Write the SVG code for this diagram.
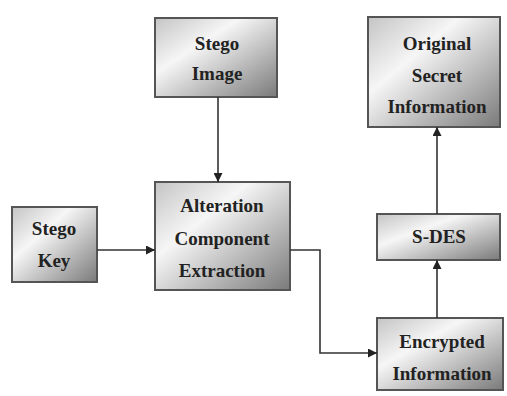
<svg xmlns="http://www.w3.org/2000/svg" width="507" height="396" viewBox="0 0 507 396">
<defs>
<linearGradient id="g" x1="0" y1="0" x2="1" y2="1">
<stop offset="0" stop-color="#c4c4c4"/>
<stop offset="0.35" stop-color="#f6f6f6"/>
<stop offset="1" stop-color="#7a7a7a"/>
</linearGradient>
<marker id="a" viewBox="0 0 10 10" refX="10" refY="5" markerWidth="9" markerHeight="9" markerUnits="userSpaceOnUse" orient="auto">
<path d="M0,0 L10,5 L0,10 Z" fill="#222"/>
</marker>
<style>
.b{fill:url(#g);stroke:#555;stroke-width:2}
.t{font-family:"Liberation Serif",serif;font-weight:bold;font-size:19px;fill:#222;text-anchor:middle}
.c{fill:none;stroke:#333;stroke-width:1.6}
</style>
</defs>
<rect width="507" height="396" fill="#fff"/>
<g id="stego-image"><rect class="b" x="155" y="18" width="122" height="79"/><text class="t" x="217" y="50">Stego</text><text class="t" x="217" y="80">Image</text></g>
<g id="stego-key"><rect class="b" x="12" y="207" width="85" height="75"/><text class="t" x="54" y="235">Stego</text><text class="t" x="54" y="267">Key</text></g>
<g id="alteration"><rect class="b" x="155" y="182" width="135" height="108"/><text class="t" x="222" y="212">Alteration</text><text class="t" x="222" y="245">Component</text><text class="t" x="222" y="277">Extraction</text></g>
<g id="original"><rect class="b" x="368" y="17" width="132" height="110"/><text class="t" x="437" y="50">Original</text><text class="t" x="437" y="82">Secret</text><text class="t" x="437" y="113">Information</text></g>
<g id="sdes"><rect class="b" x="377" y="214" width="123" height="46"/><text class="t" x="439" y="243">S-DES</text></g>
<g id="encrypted"><rect class="b" x="377" y="318" width="126" height="72"/><text class="t" x="442" y="348">Encrypted</text><text class="t" x="442" y="380">Information</text></g>
<g id="connectors">
<line class="c" x1="218" y1="97" x2="218" y2="182" marker-end="url(#a)"/>
<line class="c" x1="97" y1="250" x2="155" y2="250" marker-end="url(#a)"/>
<polyline class="c" points="290,250 320,250 320,353 377,353" marker-end="url(#a)"/>
<line class="c" x1="437" y1="318" x2="437" y2="260" marker-end="url(#a)"/>
<line class="c" x1="437" y1="214" x2="437" y2="127" marker-end="url(#a)"/>
</g>
</svg>
